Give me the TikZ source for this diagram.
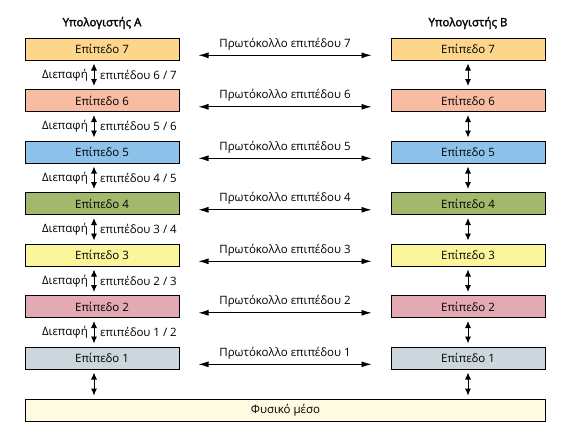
\documentclass[tikz,border=0pt]{standalone}
\usepackage{fontspec}
\setmainfont[AutoFakeBold=2]{Open Sans}
\usetikzlibrary{arrows.meta}
\definecolor{c7}{HTML}{FDD68C}
\definecolor{c6}{HTML}{F8BCA3}
\definecolor{c5}{HTML}{8DC3EA}
\definecolor{c4}{HTML}{A2B86B}
\definecolor{c3}{HTML}{FBF59B}
\definecolor{c2}{HTML}{E4AAB3}
\definecolor{c1}{HTML}{CCD6DD}
\definecolor{cphys}{HTML}{FFFBE2}
\tikzset{
  layerbox/.style={draw=black, line width=1pt, minimum width=154pt, minimum height=22pt, inner sep=0pt, font=\fontsize{11.5}{13}\selectfont},
  physbox/.style={draw=black, line width=1.7pt, fill=cphys, minimum width=520pt, minimum height=22pt, inner sep=0pt, font=\fontsize{11.5}{13}\selectfont},
  hdr/.style={font=\fontsize{11.5}{13}\selectfont\bfseries},
  lbl/.style={font=\fontsize{11.5}{13}\selectfont, inner sep=1pt},
  biarrow/.style={line width=0.9pt, {Latex[length=10pt,width=6pt]}-{Latex[length=10pt,width=6pt]}},
  vbiarrow/.style={line width=0.9pt, {Latex[length=7pt,width=6pt]}-{Latex[length=7pt,width=6pt]}, shorten <=3pt, shorten >=3pt},
}
\begin{document}
\begin{tikzpicture}[x=1pt,y=-1pt]
\useasboundingbox (0,0) rectangle (580,437);
\node[hdr] (ha) at (102,23) {Υπολογιστής Α};
\node[hdr] (hb) at (468,23) {Υπολογιστής Β};
\foreach \k/\c [evaluate=\k as \yy using {49+51.5*(7-\k)}] in {7/c7,6/c6,5/c5,4/c4,3/c3,2/c2,1/c1} {
  \node[layerbox, fill=\c] (a\k) at (102,\yy) {Επίπεδο \k};
  \node[layerbox, fill=\c] (b\k) at (468,\yy) {Επίπεδο \k};
  \coordinate (pl\k) at (198.5,\yy+6.3);
  \coordinate (pr\k) at (371.5,\yy+6.3);
  \draw[biarrow] (pl\k) -- (pr\k);
  \node[lbl] (p\k) at (285,\yy-5) {Πρωτόκολλο επιπέδου \k};
}
\foreach \u/\l in {7/6,6/5,5/4,4/3,3/2,2/1} {
  \draw[vbiarrow] (a\u.south -| 94,0) -- (a\l.north -| 94,0);
  \draw[vbiarrow] (b\u.south) -- (b\l.north);
  \path (a\u.south -| 94,0) -- (a\l.north -| 94,0) coordinate[pos=0.5] (m\u);
  \node[lbl, anchor=east] (da\u) at ([xshift=-5pt]m\u) {Διεπαφή};
  \node[lbl, anchor=west] (ea\u) at ([xshift=5pt]m\u) {επιπέδου \l\ / \u};
}
\node[physbox] (phys) at (285.5,410.5) {Φυσικό μέσο};
\draw[vbiarrow] (a1.south -| 94,0) -- (phys.north -| 94,0);
\draw[vbiarrow] (b1.south) -- (phys.north -| b1.south);
\end{tikzpicture}
\end{document}
